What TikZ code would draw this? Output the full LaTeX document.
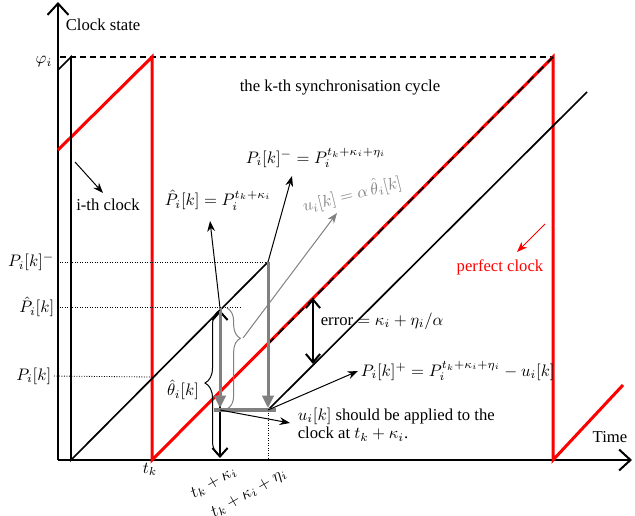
\documentclass[tikz,border=0pt]{standalone}
\usepackage{amsmath,amssymb}
\usepackage{fontspec}
\setmainfont{Liberation Serif}
\usepackage{tikz}
\usetikzlibrary{positioning,arrows.meta,calc,decorations.pathreplacing}

\begin{document}
\begin{tikzpicture}[
  x=0.6pt, y=0.6pt,
  font=\normalsize,
  axis/.style={line width=1.2pt, -{Straight Barb[length=2.4mm, width=4.4mm]}},
  redclk/.style={red, line width=1.8pt},
  clk/.style={black, line width=1pt},
  guide/.style={densely dotted, line width=0.5pt},
  garr/.style={gray, line width=1.8pt, -{Triangle[length=2.6mm, width=2.4mm]}},
  larr/.style={line width=0.6pt, -{Stealth[length=2.2mm]}},
  barr/.style={line width=1.2pt, {Straight Barb[length=1.8mm, width=3mm]}-{Straight Barb[length=1.8mm, width=3mm]}},
  gbrace/.style={decorate, decoration={brace, amplitude=8pt, aspect=0.3}, gray, line width=0.6pt},
  bbrace/.style={decorate, decoration={brace, amplitude=9pt}, line width=0.6pt},
  lab/.style={inner sep=1.5pt}
]
\useasboundingbox (0,0) rectangle (635,-515);
% ----- key points -----
\coordinate (O) at (58,-460);
\coordinate (ytop) at (58,-2);
\coordinate (xend) at (632,-460);
\coordinate (phi) at (60,-57);
\coordinate (tk) at (152,-460);
\coordinate (tkn) at (553,-460);
\coordinate (Pm) at (268,-262);
\coordinate (Ph) at (220,-308);
\coordinate (Pk) at (152,-377);
\coordinate (Pp) at (268,-410);
\coordinate (Pg) at (220,-410);
% ----- axes -----
\draw[axis] (O) -- (ytop);
\draw[axis] (O) -- (xend);
\node[lab, anchor=west] (ystate) at (63,-25) {Clock state};
\node[lab] (time) at (610,-437) {Time};
\node[lab, anchor=east] (phil) at (55,-62) {$\varphi_i$};
\draw[dashed, line width=1.2pt, dash pattern=on 3.6pt off 2.4pt] (phi) -- (553,-57);
% ----- perfect clock (red) -----
\draw[redclk] (58,-150) -- (152,-57) -- (tk) -- (553,-57) -- (tkn) -- (623,-385);
% ----- i-th clock (black) -----
\draw[clk] (58,-70) -- (71,-57) -- (71,-460) -- (Pm);
\draw[clk] (Pp) -- (587,-92);
\draw[dashed, line width=1pt, dash pattern=on 5pt off 3.5pt] (268,-344) -- (553,-57);
% ----- dotted guides -----
\node[lab, anchor=east] (lPm) at (57,-262) {$P_i[k]^-$};
\node[lab, anchor=east] (lPh) at (57,-307) {$\hat{P}_i[k]$};
\node[lab, anchor=east] (lPk) at (54,-376) {$P_i[k]$};
\draw[guide] (lPm.east) -- (Pm);
\draw[guide] (lPh.east) -- (240,-307);
\draw[guide] (lPk.east) -- (Pk);
\draw[guide] (Pp) -- (268,-460);
% ----- correction arrows -----
\draw[line width=1.2pt, {Straight Barb[length=1.8mm, width=3.2mm]}-{Straight Barb[length=1.8mm, width=3.2mm]}] (220,-310) -- (220,-458);
\draw[garr] (Ph) -- (220,-408);
\draw[garr] (Pm) -- (268,-408);
\draw[gray, line width=2.2pt] (214,-410) -- (276,-410);
\draw[bbrace] (220,-456) -- (220,-310);
\draw[gbrace] (227,-308) -- (227,-409);
% ----- labels -----
\node[lab] (cycle) at (340,-88) {the k-th synchronisation cycle};
\node[lab] (ith) at (108,-205) {i-th clock};
\coordinate (ithtail) at (75,-162);
\draw[larr] (ithtail) -- (103,-193);
\node[lab, red] (perf) at (500,-267) {perfect clock};
\coordinate (perftail) at (545,-224);
\draw[larr, red] (perftail) -- (517,-252);
\node[lab] (eqPm) at (316,-158) {$P_i[k]^- = P_i^{t_k+\kappa_i+\eta_i}$};
\node[lab] (eqPh) at (218,-200) {$\hat{P}_i[k] = P_i^{t_k+\kappa_i}$};
\node[lab, gray, rotate=14] (equ) at (352,-194) {$u_i[k] = \alpha\,\hat{\theta}_i[k]$};
\draw[larr] (Pm) -- (292,-176);
\draw[larr] (Ph) -- (210,-221);
\draw[larr, gray] (243,-338) -- (337,-213);
\node[lab] (theta) at (183,-390) {$\hat{\theta}_i[k]$};
\draw[barr] (313,-298) -- (313,-364);
\node[lab, anchor=west] (err) at (318,-321) {error $= \kappa_i + \eta_i/\alpha$};
\node[lab, anchor=west] (eqPp) at (358,-371) {$P_i[k]^+ = P_i^{t_k+\kappa_i+\eta_i} - u_i[k]$};
\draw[larr] (Pp) -- (eqPp.west);
\node[lab, anchor=north west, align=left, font=\fontsize{10}{11}\selectfont] (note) at (295,-405)
  {$u_i[k]$ should be applied to the\\clock at $t_k+\kappa_i$.};
\draw[larr] (Pg) -- (290,-423);
% ----- time ticks -----
\node[lab, anchor=north] (ltk) at (150,-460) {$t_k$};
\node[lab, rotate=30, anchor=north east] (ltkk) at (233,-461) {$t_k+\kappa_i$};
\node[lab, rotate=30, anchor=north east] (ltkke) at (283,-463) {$t_k+\kappa_i+\eta_i$};
\end{tikzpicture}
\end{document}
